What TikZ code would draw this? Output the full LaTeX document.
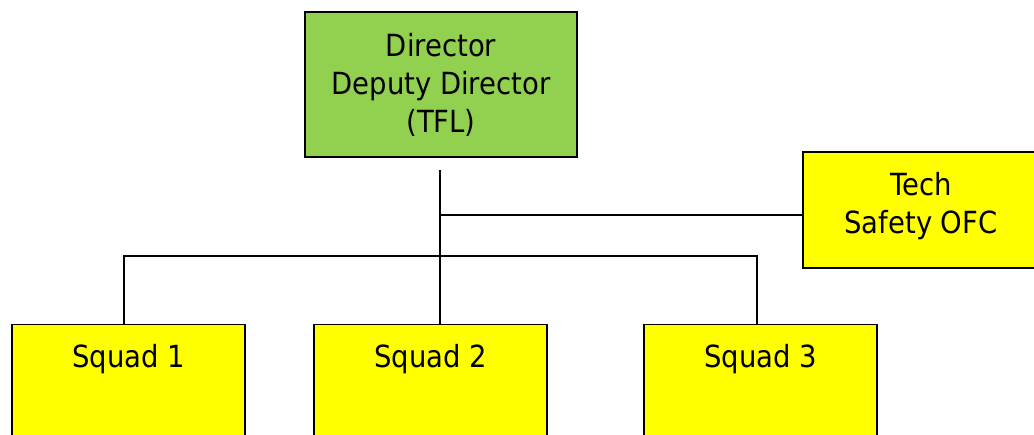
\documentclass[tikz,border=0pt]{standalone}
\usepackage{fontspec}
\setmainfont{DejaVu Sans Condensed}
\usepackage{tikz}
\usetikzlibrary{positioning}

\definecolor{dirgreen}{RGB}{146,208,80}
\definecolor{unityellow}{RGB}{255,255,0}

\tikzset{
  unitbox/.style={draw=black, line width=1.5pt, inner sep=0pt, align=center,
    font=\fontsize{30.5}{38}\selectfont},
  squadbox/.style={unitbox, fill=unityellow, minimum width=233pt,
    text height=43pt, text depth=100pt},
  orgline/.style={line width=1.5pt}
}

\begin{document}
\begin{tikzpicture}[x=1pt,y=-1pt]
\useasboundingbox (0,0) rectangle (1034,435);
\clip (0,0) rectangle (1034,435);
% top of the tree
\node [unitbox, fill=dirgreen, minimum width=272pt, minimum height=145pt] (dir) at (441,84.5) {Director\\Deputy Director\\(TFL)};
\node [unitbox, fill=unityellow, minimum width=236pt, minimum height=116pt, text depth=15pt] (tech) at (921,210) {Tech\\Safety OFC};
% squads
\node [squadbox, anchor=north] (sq1) at (128.5,324) {Squad 1};
\node [squadbox, anchor=north] (sq2) at (430.5,324) {Squad 2};
\node [squadbox, anchor=north] (sq3) at (760.5,324) {Squad 3};
% connectors
\coordinate (stem) at (440,170);
\coordinate (tap) at (440,215);
\coordinate (busL) at (124,256);
\coordinate (busR) at (757,256);
\draw [orgline] (stem) -- (stem |- sq2.north);
\draw [orgline] (tap) -- (tap -| tech.west);
\draw [orgline] (busL |- sq1.north) -- (busL) -- (busR) -- (busR |- sq3.north);
\end{tikzpicture}
\end{document}
